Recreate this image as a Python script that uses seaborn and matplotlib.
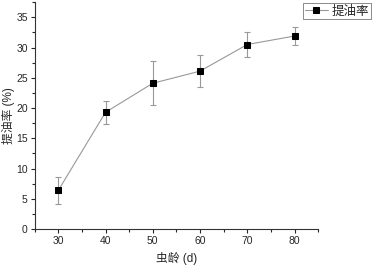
import numpy as np
import pandas as pd
import seaborn as sns
import matplotlib.pyplot as plt
from matplotlib.ticker import MultipleLocator

# 虫龄 vs 提油率
age = [30, 40, 50, 60, 70, 80]
oil_rate = [6.4, 19.3, 24.1, 26.1, 30.5, 31.9]
err = [2.2, 1.9, 3.6, 2.7, 2.1, 1.5]

sns.set_style('ticks')
plt.rcParams['font.family'] = ['Liberation Sans', 'Noto Sans CJK SC']

df = pd.DataFrame({'age': age, 'rate': oil_rate, 'err': err})

fig = plt.figure(figsize=(3.73, 2.67), dpi=100)
ax = fig.add_axes([0.093, 0.142, 0.76, 0.85])

ax.errorbar(df['age'], df['rate'], yerr=df['err'], fmt='none', ecolor='#999999',
            elinewidth=0.8, capsize=2, capthick=0.8, zorder=1)
sns.lineplot(data=df, x='age', y='rate', ax=ax, color='#999999', linewidth=0.8,
             marker='s', markersize=5, markerfacecolor='black', markeredgecolor='black',
             label='提油率', zorder=2)

ax.set_xlim(25, 85)
ax.set_ylim(0, 37.5)
ax.xaxis.set_major_locator(MultipleLocator(10))
ax.xaxis.set_minor_locator(MultipleLocator(5))
ax.yaxis.set_major_locator(MultipleLocator(5))
ax.yaxis.set_minor_locator(MultipleLocator(2.5))
ax.tick_params(which='major', length=3, width=0.8, labelsize=7.5, direction='out', pad=2)
ax.tick_params(which='minor', length=2, width=0.8, direction='out')
for s in ['left', 'bottom']:
    ax.spines[s].set_linewidth(0.8)
    ax.spines[s].set_color('#333333')
sns.despine(ax=ax)

ax.set_xlabel('虫龄 (d)', fontsize=8.5, labelpad=4)
ax.set_ylabel('提油率 (%)', fontsize=8.5, labelpad=1)

leg = ax.legend(loc='upper right', bbox_to_anchor=(1.19, 1.0), fontsize=9,
                frameon=True, fancybox=False, edgecolor='#555555',
                borderpad=0.15, handlelength=1.8, handletextpad=0.3,
                borderaxespad=0.1)
leg.get_frame().set_linewidth(0.6)

fig.savefig('out.png', dpi=100)
